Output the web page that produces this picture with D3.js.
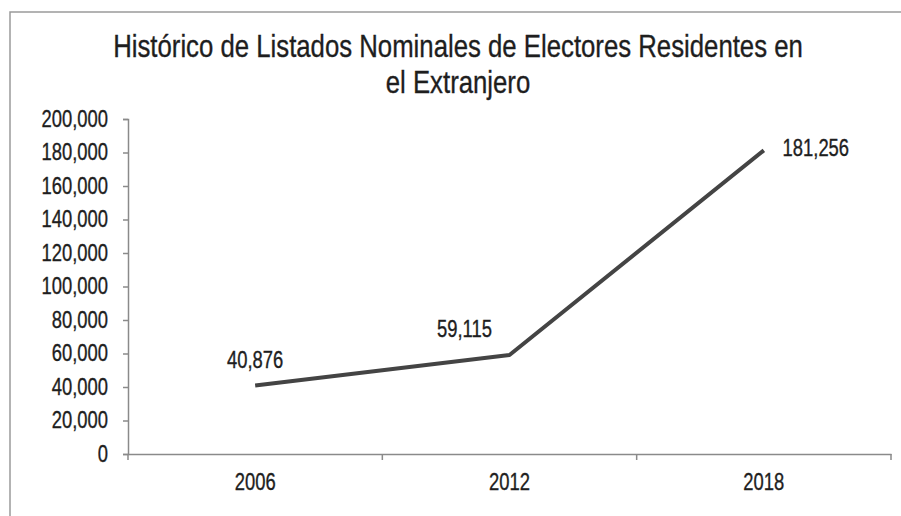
<!DOCTYPE html>
<html>
<head>
<meta charset="utf-8">
<script src="https://cdn.jsdelivr.net/npm/d3@7"></script>
<style>
  body { margin: 0; background: #fff; }
  svg text { font-family: "Liberation Sans", Arial, sans-serif; fill: #1e1e1e; stroke: #1e1e1e; stroke-width: 0.35px; }
</style>
</head>
<body>
<svg width="901" height="516"></svg>
<script>
var years = ["2006", "2012", "2018"],
    electores = [40876, 59115, 181256],
    yTicks = [0, 20000, 40000, 60000, 80000, 100000, 120000, 140000, 160000, 180000, 200000],
    titleLines = ["Histórico de Listados Nominales de Electores Residentes en", "el Extranjero"];

var svg = d3.select("svg"),
    margin = {top: 119, right: 10, bottom: 62, left: 128},
    width = 891 - margin.left,
    height = 454 - margin.top;

var fmt = d3.format(",");

// la fuente del original es tipo "Arial Narrow": se estrecha el texto
function narrow(sel, k) {
  sel.each(function() {
    var len = this.getComputedTextLength();
    d3.select(this).attr("textLength", len * k).attr("lengthAdjust", "spacingAndGlyphs");
  });
}

// marco del gráfico
svg.append("path")
    .attr("d", "M10,516 V12 H901")
    .attr("fill", "none")
    .attr("stroke", "#9a9a9a")
    .attr("stroke-width", 1.5);

var title = svg.append("g").selectAll("text")
  .data(titleLines)
  .enter().append("text")
    .attr("text-anchor", "middle")
    .attr("font-size", 32)
    .text(function(d) { return d; });
var tk = 690 / title.node().getComputedTextLength();
title.attr("transform", function(d, i) {
  return "translate(458," + (57 + i * 36) + ") scale(" + tk + ",1)";
});

var x = d3.scaleBand().domain(years).range([0, width]),
    y = d3.scaleLinear().domain([0, 200000]).range([height, 0]);

var g = svg.append("g").attr("transform", "translate(" + margin.left + "," + margin.top + ")");

var yAxis = g.append("g")
    .call(d3.axisLeft(y).tickValues(yTicks).tickFormat(fmt).tickSize(5).tickPadding(15));
yAxis.selectAll("text").attr("font-size", 23).call(narrow, 0.8);

var xAxis = g.append("g")
    .attr("transform", "translate(0," + height + ")")
    .call(d3.axisBottom(x).tickSize(0).tickPadding(20));
xAxis.selectAll("text").attr("font-size", 23).call(narrow, 0.8);
// marcas entre categorías
xAxis.selectAll(".sep")
  .data(d3.range(years.length + 1))
  .enter().append("line")
    .attr("class", "sep")
    .attr("x1", function(d) { return d * x.step(); })
    .attr("x2", function(d) { return d * x.step(); })
    .attr("y1", 0).attr("y2", 6);

svg.selectAll(".domain, .tick line, .sep").attr("stroke", "#8a8a8a").attr("stroke-width", 1.5);

var line = d3.line()
    .x(function(d, i) { return x(years[i]) + x.bandwidth() / 2; })
    .y(function(d) { return y(d); });

g.append("path")
    .datum(electores)
    .attr("fill", "none")
    .attr("stroke", "#444")
    .attr("stroke-width", 4)
    .attr("stroke-linejoin", "round")
    .attr("d", line);

var labelDx = [0, -45, 52],
    labelDy = [-18, -18, 6];

g.selectAll(".val")
  .data(electores)
  .enter().append("text")
    .attr("class", "val")
    .attr("x", function(d, i) { return x(years[i]) + x.bandwidth() / 2 + labelDx[i]; })
    .attr("y", function(d, i) { return y(d) + labelDy[i]; })
    .attr("text-anchor", "middle")
    .attr("font-size", 23)
    .text(fmt)
    .call(narrow, 0.8);
</script>
</body>
</html>
